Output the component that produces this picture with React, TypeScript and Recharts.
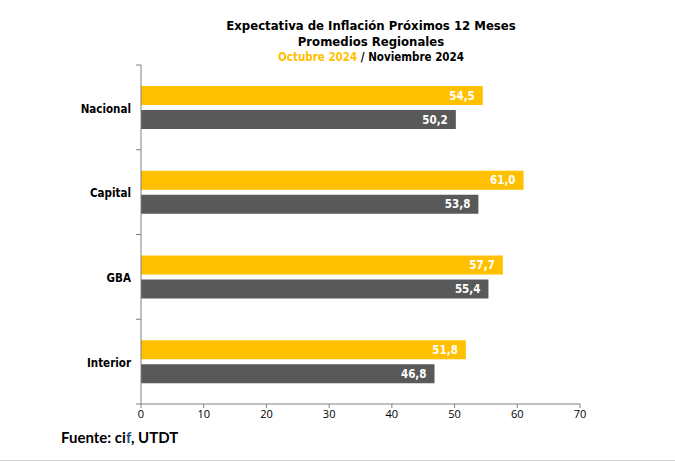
import { BarChart, Bar, XAxis, YAxis, LabelList } from 'recharts';

const regiones = ['Nacional', 'Capital', 'GBA', 'Interior'];
const octubre2024 = [54.5, 61.0, 57.7, 51.8];
const noviembre2024 = [50.2, 53.8, 55.4, 46.8];
const xTicks = [0, 10, 20, 30, 40, 50, 60, 70];

const data = regiones.map((region, i) => ({
    region,
    oct: octubre2024[i],
    nov: noviembre2024[i],
}));

const AMARILLO = '#FFC000';
const GRIS = '#595959';
const EJE = '#808080';
const FUENTE_TITULO = '"DejaVu Sans Condensed", "DejaVu Sans", sans-serif';
const MARGEN_TICK = 10;

const formatoValor = (v: any) => Number(v).toFixed(1).replace('.', ',');

// etiqueta de region + marca en el borde de cada banda (como en el original)
function TickRegion(props: any) {
    const { x, y, payload, index } = props;
    const ejeX = x + MARGEN_TICK;
    const medio = payload.offset || 0;
    return (
        <g>
            <line x1={ejeX - 5} x2={ejeX} y1={y - medio} y2={y - medio} stroke={EJE} />
            {index === regiones.length - 1 && (
                <line x1={ejeX - 5} x2={ejeX} y1={y + medio} y2={y + medio} stroke={EJE} />
            )}
            <text x={x} y={y} dy="0.45em" textAnchor="end" fontSize={11.5} fontWeight="bold" fill="#000" fontFamily={FUENTE_TITULO}>
                {payload.value}
            </text>
        </g>
    );
}

export default function App() {
    return (
        <div style={{ position: 'absolute', left: 0, top: 0, width: 675, height: 462, background: '#fff' }}>
            <div style={{ position: 'absolute', left: 171, width: 400, top: 18, textAlign: 'center', fontFamily: FUENTE_TITULO, fontWeight: 'bold', color: '#000', lineHeight: '16px' }}>
                <div style={{ fontSize: 13 }}>Expectativa de Inflación Próximos 12 Meses</div>
                <div style={{ fontSize: 13 }}>Promedios Regionales</div>
                <div style={{ fontSize: 11.5, lineHeight: '15px' }}>
                    <span style={{ color: AMARILLO }}>Octubre 2024</span> / Noviembre 2024
                </div>
            </div>
            <BarChart
                width={675}
                height={462}
                data={data}
                layout="vertical"
                margin={{ top: 65, right: 95, bottom: 28, left: 0 }}
                barSize={19}
                barGap={5}
                style={{ position: 'absolute', left: 0, top: 0 }}
            >
                <XAxis
                    type="number"
                    domain={[0, 70]}
                    ticks={xTicks}
                    interval={0}
                    height={30}
                    stroke={EJE}
                    tickSize={4}
                    tick={{ fontSize: 11, fill: '#000', stroke: 'none', fontFamily: '"Open Sans", sans-serif' }}
                />
                <YAxis
                    type="category"
                    dataKey="region"
                    width={141}
                    stroke={EJE}
                    tickLine={false}
                    tickSize={0}
                    tickMargin={MARGEN_TICK}
                    interval={0}
                    tick={TickRegion}
                />
                <Bar dataKey="oct" fill={AMARILLO} isAnimationActive={false}>
                    <LabelList dataKey="oct" position="insideRight" offset={8} formatter={formatoValor} fill="#fff" fontSize={11.5} fontWeight="bold" fontFamily={FUENTE_TITULO} />
                </Bar>
                <Bar dataKey="nov" fill={GRIS} isAnimationActive={false}>
                    <LabelList dataKey="nov" position="insideRight" offset={8} formatter={formatoValor} fill="#fff" fontSize={11.5} fontWeight="bold" fontFamily={FUENTE_TITULO} />
                </Bar>
            </BarChart>
            <div style={{ position: 'absolute', left: 61, top: 428, fontFamily: 'Lato, sans-serif', fontWeight: 'bold', fontSize: 15, color: '#000' }}>
                Fuente: ci<span style={{ color: '#1F4E79' }}>f</span>, UTDT
            </div>
            <div style={{ position: 'absolute', left: 0, top: 460, width: 675, height: 0, borderTop: '1px solid #d4d4d4' }} />
        </div>
    );
}
